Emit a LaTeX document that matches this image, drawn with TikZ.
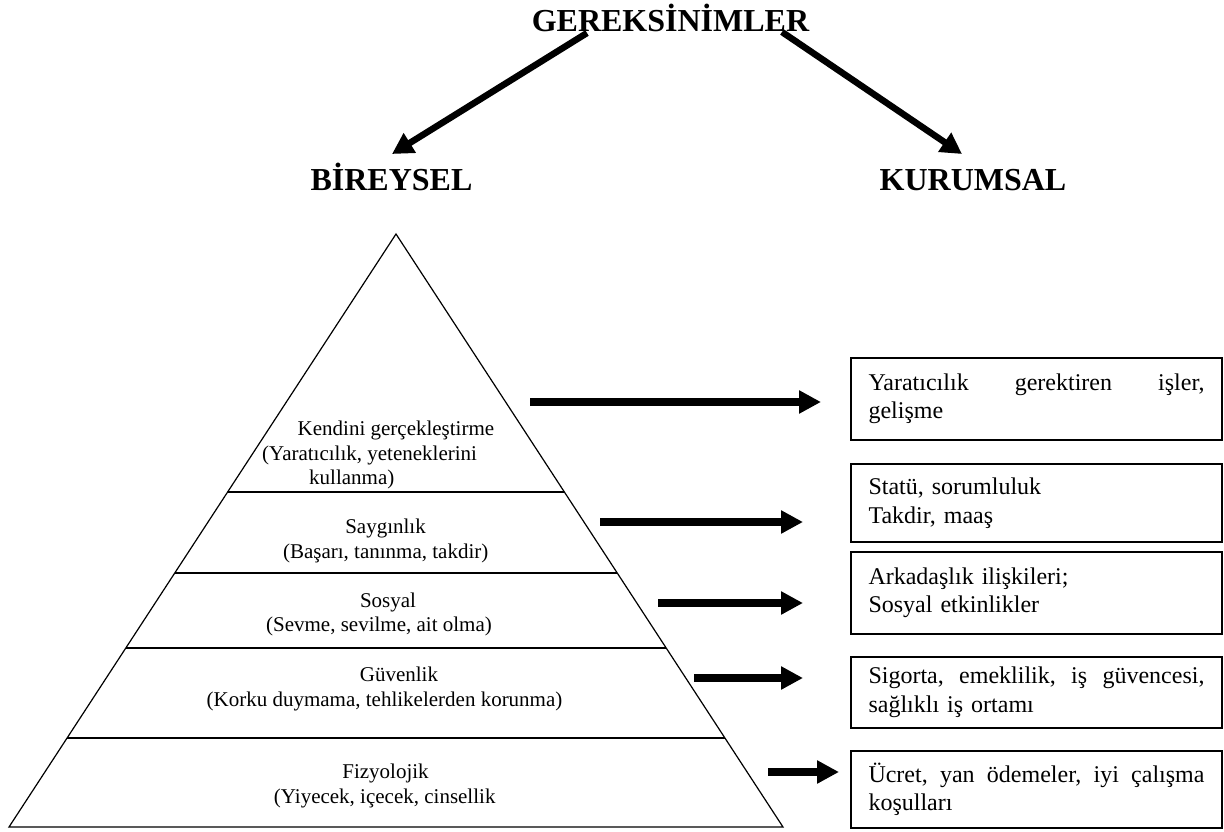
\documentclass[tikz,border=0pt]{standalone}
\usepackage{fontspec}
\setmainfont{Liberation Serif}
\usetikzlibrary{arrows.meta,calc}
\newcommand{\fullline}[1]{\hbox to 336pt{#1}}
\begin{document}
\begin{tikzpicture}[x=1pt,y=-1pt,
  heading/.style={font=\fontsize{32}{38}\selectfont\bfseries, inner sep=0pt, anchor=base},
  lvl/.style={font=\fontsize{21}{24.5}\selectfont, inner sep=0pt, text height=15pt, text depth=5pt},
  needbox/.style={draw, line width=1.8pt, minimum width=371pt, text width=336pt, inner xsep=17.5pt,
    align=left, font=\fontsize{24}{28.5}\selectfont},
  bigarrow/.style={line width=6.5pt, -{Triangle[length=21pt,width=22pt]}},
  sidearrow/.style={line width=7.5pt, -{Triangle[length=22pt,width=22pt]}},
  layer/.style={line width=1.6pt},
]
\useasboundingbox (0,0) rectangle (1224,832);

% headings
\node[heading] (top) at (670.5,32) {GEREKSİNİMLER};
\node[heading] (ind) at (391.5,190) {BİREYSEL};
\node[heading] (org) at (973,190) {KURUMSAL};

\coordinate (topL) at (587,33);
\coordinate (topR) at (782,32);
\coordinate (indTip) at (392,154);
\coordinate (orgTip) at (962,154);
\draw[bigarrow] (topL) -- (indTip);
\draw[bigarrow] (topR) -- (orgTip);

% pyramid
\coordinate (apex) at (396,234);
\coordinate (bl) at (9,827);
\coordinate (br) at (783,827);
\draw[line width=1.2pt, line join=miter] (apex) -- (bl) -- (br) -- cycle;
\foreach \f in {0.4351,0.5717,0.6981,0.8499}
  \draw[layer] ($(apex)!\f!(bl)$) -- ($(apex)!\f!(br)$);

% pyramid levels
\node[lvl, anchor=west] (k1) at (297.5,430) {Kendini gerçekleştirme};
\node[lvl, anchor=west] (k2) at (262,455) {(Yaratıcılık, yeteneklerini};
\node[lvl, anchor=west] (k3) at (309,479) {kullanma)};
\node[lvl] (s1) at (385.5,528) {Saygınlık};
\node[lvl] (s2) at (385.7,553) {(Başarı, tanınma, takdir)};
\node[lvl] (o1) at (388,602.7) {Sosyal};
\node[lvl] (o2) at (379,626.7) {(Sevme, sevilme, ait olma)};
\node[lvl] (g1) at (399,676.7) {Güvenlik};
\node[lvl] (g2) at (384.5,701.7) {(Korku duymama, tehlikelerden korunma)};
\node[lvl] (f1) at (385.5,773) {Fizyolojik};
\node[lvl] (f2) at (384.7,798) {(Yiyecek, içecek, cinsellik};

% organisational counterparts
\node[needbox, minimum height=82pt] (b1) at (1036.5,399)
  {\fullline{Yaratıcılık\hfill gerektiren\hfill işler,}\\gelişme};
\node[needbox, minimum height=78pt] (b2) at (1036.5,503)
  {Statü, sorumluluk\\Takdir, maaş};
\node[needbox, minimum height=82pt] (b3) at (1036.5,593)
  {Arkadaşlık ilişkileri;\\Sosyal etkinlikler};
\node[needbox, minimum height=71pt] (b4) at (1036.5,692.5)
  {\fullline{Sigorta,\hfill emeklilik,\hfill iş\hfill güvencesi,}\\sağlıklı iş ortamı};
\node[needbox, minimum height=77pt] (b5) at (1036.5,789.5)
  {\fullline{Ücret,\hfill yan\hfill ödemeler,\hfill iyi\hfill çalışma}\\koşulları};

% level-to-box arrows
\coordinate (a1s) at (530,402);  \coordinate (a1e) at (821,402);
\coordinate (a2s) at (600,522);  \coordinate (a2e) at (803,522);
\coordinate (a3s) at (658,603);  \coordinate (a3e) at (803,603);
\coordinate (a4s) at (694,678);  \coordinate (a4e) at (803,678);
\coordinate (a5s) at (768,772);  \coordinate (a5e) at (839,772);
\foreach \i in {1,...,5}
  \draw[sidearrow] (a\i s) -- (a\i e);
\end{tikzpicture}
\end{document}
